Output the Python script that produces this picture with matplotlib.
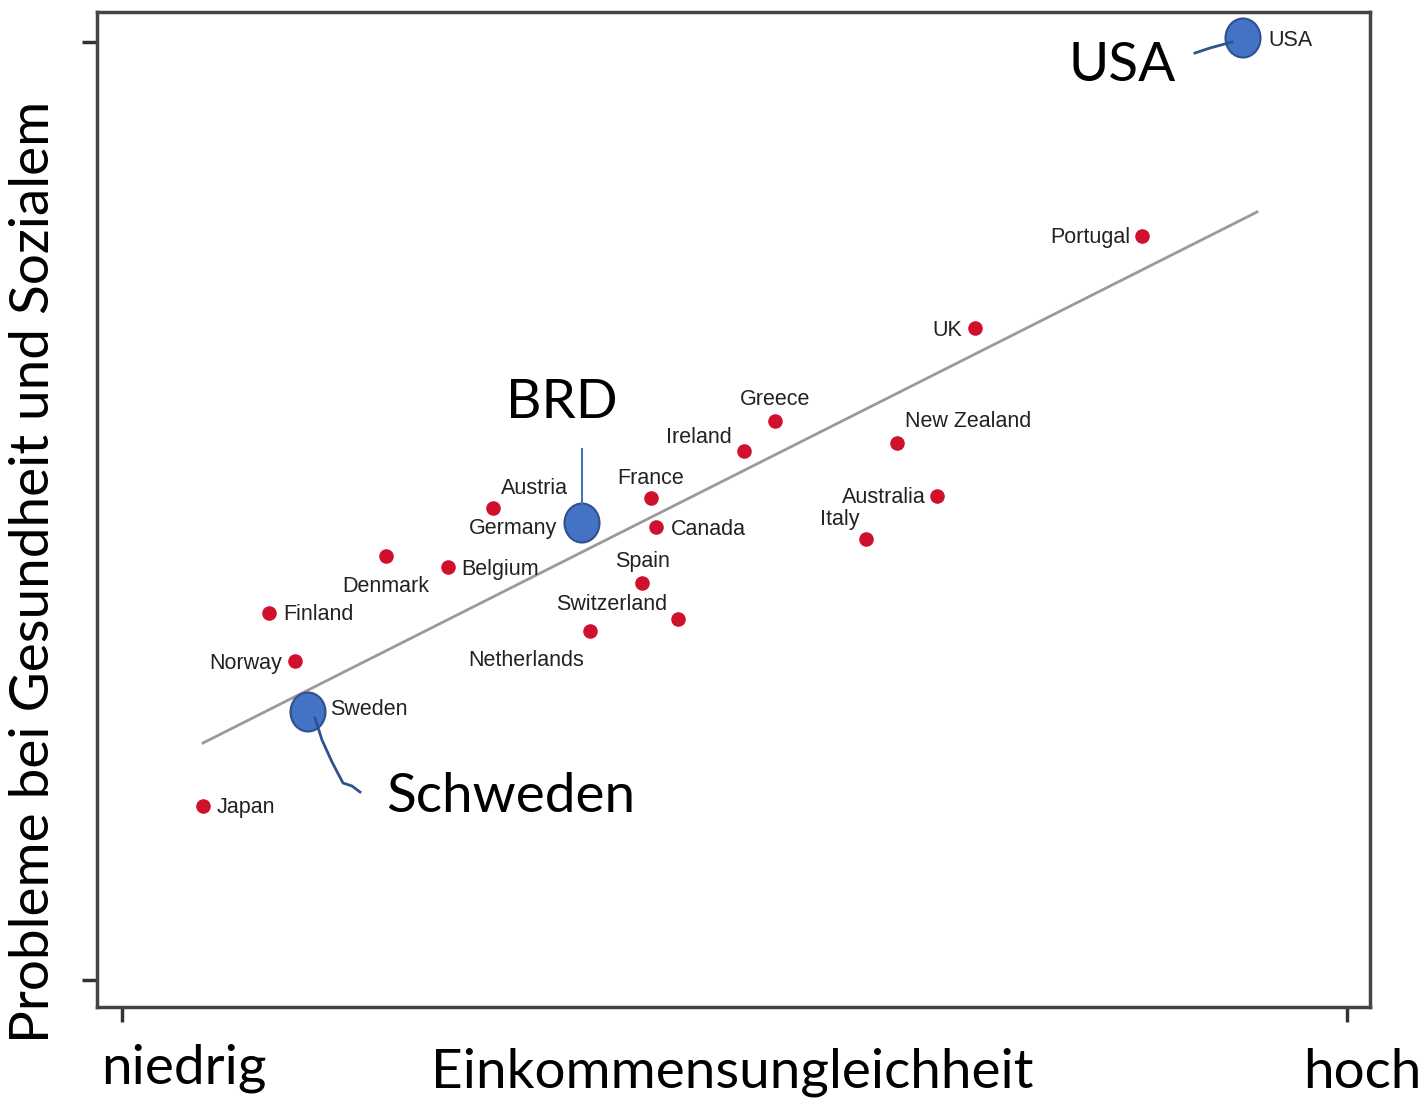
import matplotlib.pyplot as plt
from matplotlib.patches import Ellipse

# Werte (Pixel-Skala des Originals, y nach unten)
laender = ['USA', 'Portugal', 'UK', 'Greece', 'Ireland', 'New Zealand', 'Australia',
           'Italy', 'France', 'Canada', 'Spain', 'Switzerland', 'Netherlands',
           'Austria', 'Germany', 'Belgium', 'Denmark', 'Finland', 'Norway',
           'Sweden', 'Japan']
ungleichheit = [1245, 1142, 975, 775, 744, 897, 937, 866, 651, 656, 642, 678, 590,
                493, 575, 448, 386, 269, 295, 307, 203]
probleme = [40, 236, 328, 421, 451, 443, 496, 539, 498, 527, 583, 619, 631,
            508, 524, 567, 556, 613, 661, 712, 806]
# Label-Versatz (dx, dy) und Ausrichtung
label_pos = {
    'USA': (23, 1, 'left'), 'Portugal': (-12, 2, 'right'), 'UK': (-13, 3, 'right'),
    'Greece': (0, -21, 'center'), 'Ireland': (-12, -13, 'right'),
    'New Zealand': (8, -21, 'left'), 'Australia': (-11, 2, 'right'),
    'Italy': (-6, -19, 'right'), 'France': (0, -19, 'center'),
    'Canada': (15, 3, 'left'), 'Spain': (0, -21, 'center'),
    'Switzerland': (-11, -14, 'right'), 'Netherlands': (-6, 30, 'right'),
    'Austria': (8, -19, 'left'), 'Germany': (-18, 5, 'right'),
    'Belgium': (13, 3, 'left'), 'Denmark': (0, 31, 'center'),
    'Finland': (14, 2, 'left'), 'Norway': (-13, 3, 'right'),
    'Sweden': (23, -2, 'left'), 'Japan': (14, 2, 'left'),
}
trend_x = [203, 1257]
trend_y = [743, 212]

# hervorgehobene Laender
markiert = {'USA': (1243, 38), 'BRD': (582, 523), 'Schweden': (308, 712)}

fig = plt.figure(figsize=(14.25, 11), dpi=100)
ax = fig.add_axes([97 / 1425, 1 - 1007 / 1100, 1273 / 1425, 995 / 1100])
ax.set_xlim(97, 1370)
ax.set_ylim(1007, 12)

ax.plot(trend_x, trend_y, color='#9a9a9a', lw=2, zorder=1)
ax.scatter(ungleichheit, probleme, s=110, color='#d0102c', zorder=2, lw=0)
for land, x, y in zip(laender, ungleichheit, probleme):
    dx, dy, ha = label_pos[land]
    ax.text(x + dx, y + dy, land, ha=ha, va='center', fontsize=15.5,
            family='Liberation Sans', color='#222222', zorder=3)

# blaue Kreise und Linien
for name, (cx, cy) in markiert.items():
    ax.add_patch(Ellipse((cx, cy), 35, 39, facecolor='#4472c4',
                         edgecolor='#2f528f', lw=1.5, zorder=4))
ax.plot([582, 582], [449, 505], color='#4472c4', lw=1.5, zorder=4)
ax.plot([1195, 1210, 1232], [53, 48, 42], color='#2f528f', lw=2, zorder=4)
ax.plot([315, 322, 332, 343, 352, 360], [718, 740, 762, 783, 786, 792],
        color='#2f528f', lw=2, zorder=4)

gross = dict(fontsize=39.5, family='Lato', ha='center', va='center')
ax.text(1122, 66, 'USA', **gross)
ax.text(562, 403, 'BRD', **gross)
ax.text(511, 797, 'Schweden', **gross)

ax.set_xticks([122, 1347])
ax.set_yticks([42, 980])
ax.set_xticklabels([])
ax.set_yticklabels([])
ax.tick_params(length=11, width=2.5, color='#333333')
for sp in ax.spines.values():
    sp.set_color('#444444')
    sp.set_linewidth(2.5)

fig.text(184 / 1425, 1 - 1068 / 1100, 'niedrig', **gross)
fig.text(732 / 1425, 1 - 1072 / 1100, 'Einkommensungleichheit', **gross)
fig.text(1362 / 1425, 1 - 1072 / 1100, 'hoch', **gross)
fig.text(34 / 1425, 1 - 572 / 1100, 'Probleme bei Gesundheit und Sozialem',
         rotation=90, **gross)

fig.savefig('out.png', dpi=100, facecolor='white')
